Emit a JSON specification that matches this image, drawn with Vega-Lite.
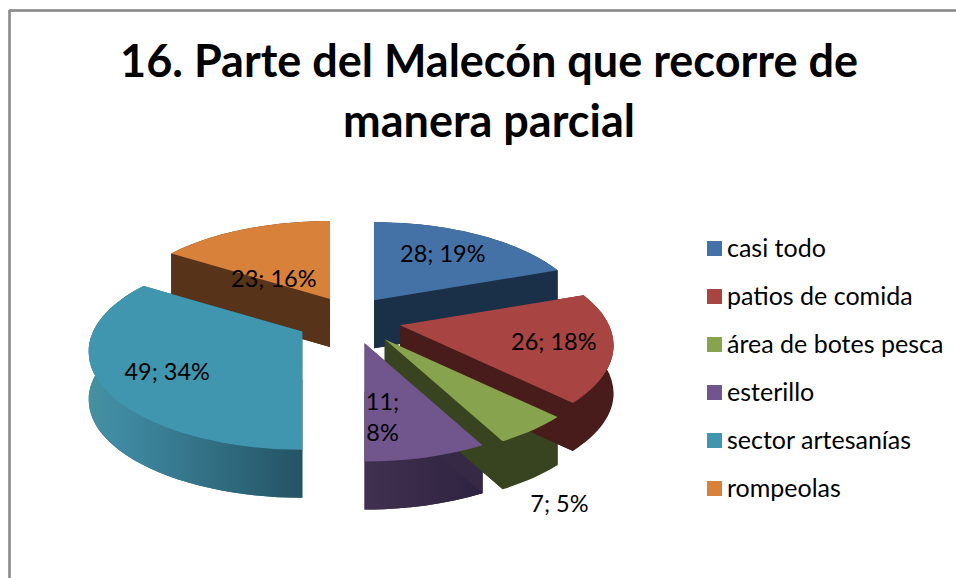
{
"$schema":"https://vega.github.io/schema/vega-lite/v6.json",
"width":956,"height":578,"padding":0,"autosize":{"type":"none"},
"background":"white",
"view":{"stroke":null},
"title":{"text":["16. Parte del Malecón que recorre de","manera parcial"],"font":"Lato","fontWeight":"bold","fontSize":45,"lineHeight":60,"color":"#000000","anchor":"middle","frame":"group","offset":-146,"dx":11},
"data":{"values":[
{"cat":"casi todo","value":28},
{"cat":"patios de comida","value":26},
{"cat":"área de botes pesca","value":7},
{"cat":"esterillo","value":11},
{"cat":"sector artesanías","value":49},
{"cat":"rompeolas","value":23}
]},
"transform":[
{"joinaggregate":[{"op":"sum","field":"value","as":"total"}]},
{"window":[{"op":"sum","field":"value","as":"cum"}]},
{"calculate":"(datum.cum-datum.value)/datum.total*2*PI","as":"t0"},
{"calculate":"datum.cum/datum.total*2*PI","as":"t1"},
{"calculate":"(datum.t0+datum.t1)/2","as":"m"},
{"calculate":"round(100*(49*sin(datum.m)/(1+0.205*cos(datum.m))))/100","as":"ax"},
{"calculate":"round(100*(-24*cos(datum.m)))/100","as":"ay"},
{"calculate":"round(100*(datum.ax+209*sin(datum.t0)/(1+0.205*cos(datum.t0))))/100","as":"x1"},
{"calculate":"round(100*(datum.ay-94*cos(datum.t0)/(1+0.205*cos(datum.t0))))/100","as":"y1"},
{"calculate":"round(100*(datum.ax+209*sin(datum.t1)/(1+0.205*cos(datum.t1))))/100","as":"x2"},
{"calculate":"round(100*(datum.ay-94*cos(datum.t1)/(1+0.205*cos(datum.t1))))/100","as":"y2"},
{"calculate":"'M'+datum.ax+' '+datum.ay+'L'+datum.x1+' '+datum.y1+'A213.5 98.1 0 0 1 '+datum.x2+' '+datum.y2+'Z'","as":"top"},
{"calculate":"'M'+datum.ax+' '+(datum.ay+48)+'L'+datum.x1+' '+(datum.y1+48)+'A213.5 98.1 0 0 1 '+datum.x2+' '+(datum.y2+48)+'Z'+'M'+datum.x1+' '+datum.y1+'L'+datum.x1+' '+(datum.y1+48)+'A213.5 98.1 0 0 1 '+datum.x2+' '+(datum.y2+48)+'L'+datum.x2+' '+datum.y2+'A213.5 98.1 0 0 0 '+datum.x1+' '+datum.y1+'Z'","as":"band"},
{"calculate":"'M'+datum.ax+' '+datum.ay+'L'+datum.x1+' '+datum.y1+'L'+datum.x1+' '+(datum.y1+48)+'L'+datum.ax+' '+(datum.ay+48)+'Z'","as":"q1"},
{"calculate":"'M'+datum.ax+' '+datum.ay+'L'+datum.x2+' '+datum.y2+'L'+datum.x2+' '+(datum.y2+48)+'L'+datum.ax+' '+(datum.ay+48)+'Z'","as":"q2"},
{"calculate":"{'casi todo':[0.67,-1],'patios de comida':[0.72,2],'área de botes pesca':[1.18,58],'esterillo':[0.29,27],'sector artesanías':[0.665,8],'rompeolas':[0.66,27]}[datum.cat]","as":"lp"},
{"calculate":"350+datum.ax+datum.lp[0]*209*sin(datum.m)/(1+0.205*cos(datum.m))","as":"lx"},
{"calculate":"320+datum.ay+datum.lp[1]-datum.lp[0]*94*cos(datum.m)/(1+0.205*cos(datum.m))","as":"ly"},
{"calculate":"datum.value+(datum.cat=='esterillo'?';\\n':'; ')+round(100*datum.value/datum.total)+'%'","as":"label"}
],
"layer":[
{"mark":{"type":"rule","color":"#8a8a8a","strokeWidth":1.5},"encoding":{"x":{"value":9.5},"y":{"value":10},"y2":{"value":578}}},
{"mark":{"type":"rule","color":"#8a8a8a","strokeWidth":1.5},"encoding":{"y":{"value":10.5},"x":{"value":9},"x2":{"value":956}}},
{"mark":{"type":"point","filled":true,"size":4,"opacity":1,"strokeWidth":0},
 "encoding":{"x":{"value":350},"y":{"value":320},"shape":{"field":"band","type":"nominal","scale":null,"legend":null},
 "color":{"field":"cat","type":"nominal","legend":null,"scale":{"domain":["casi todo","patios de comida","área de botes pesca","esterillo","sector artesanías","rompeolas"],"range":["#1a2f48","#471c1a","#38431f","#352945","#2f6c80","#57331a"]}}}},
{"transform":[{"filter":"datum.cat=='sector artesanías'"}],
 "mark":{"type":"point","filled":true,"size":4,"opacity":1,"strokeWidth":0,"fill":{"x1":0,"y1":0,"x2":1,"y2":0,"gradient":"linear","stops":[{"offset":0,"color":"#45919f"},{"offset":0.15,"color":"#3f8aa2"},{"offset":1,"color":"#245364"}]}},
 "encoding":{"x":{"value":350},"y":{"value":320},"shape":{"field":"band","type":"nominal","scale":null,"legend":null}}},
{"transform":[{"filter":"datum.cat=='esterillo'"}],
 "mark":{"type":"point","filled":true,"size":4,"opacity":1,"strokeWidth":0,"fill":{"x1":0,"y1":0,"x2":1,"y2":0,"gradient":"linear","stops":[{"offset":0,"color":"#41304f"},{"offset":1,"color":"#2d2340"}]}},
 "encoding":{"x":{"value":350},"y":{"value":320},"shape":{"field":"band","type":"nominal","scale":null,"legend":null}}},
{"mark":{"type":"point","filled":true,"size":4,"opacity":1,"strokeWidth":0},
 "encoding":{"x":{"value":350},"y":{"value":320},"shape":{"field":"q1","type":"nominal","scale":null,"legend":null},
 "color":{"field":"cat","type":"nominal","legend":null,"scale":{"domain":["casi todo","patios de comida","área de botes pesca","esterillo","sector artesanías","rompeolas"],"range":["#1a2f48","#471c1a","#38431f","#352945","#245364","#57331a"]}}}},
{"mark":{"type":"point","filled":true,"size":4,"opacity":1,"strokeWidth":0},
 "encoding":{"x":{"value":350},"y":{"value":320},"shape":{"field":"q2","type":"nominal","scale":null,"legend":null},
 "color":{"field":"cat","type":"nominal","legend":null,"scale":{"domain":["casi todo","patios de comida","área de botes pesca","esterillo","sector artesanías","rompeolas"],"range":["#1a2f48","#471c1a","#38431f","#352945","#245364","#57331a"]}}}},
{"mark":{"type":"point","filled":true,"size":4,"opacity":1,"strokeWidth":0},
 "encoding":{"x":{"value":350},"y":{"value":320},"shape":{"field":"top","type":"nominal","scale":null,"legend":null},
 "color":{"field":"cat","type":"nominal","scale":{"domain":["casi todo","patios de comida","área de botes pesca","esterillo","sector artesanías","rompeolas"],"range":["#4472a7","#a84442","#87a34d","#70568d","#4096ae","#d8813b"]},
 "legend":{"title":null,"orient":"none","legendX":702,"legendY":236,"symbolType":"square","symbolSize":225,"symbolStrokeWidth":0,"symbolOpacity":1,"labelFont":"Lato","labelFontSize":25,"labelColor":"#000000","rowPadding":22,"labelOffset":0,"labelLimit":260}}}},
{"mark":{"type":"text","font":"Lato","fontSize":23.5,"color":"#000000","align":"center","baseline":"middle","lineBreak":"\n","lineHeight":31},
 "encoding":{"x":{"field":"lx","type":"quantitative","scale":null},"y":{"field":"ly","type":"quantitative","scale":null},"text":{"field":"label","type":"nominal"}}}
],
"resolve":{"scale":{"color":"independent"}}
}
